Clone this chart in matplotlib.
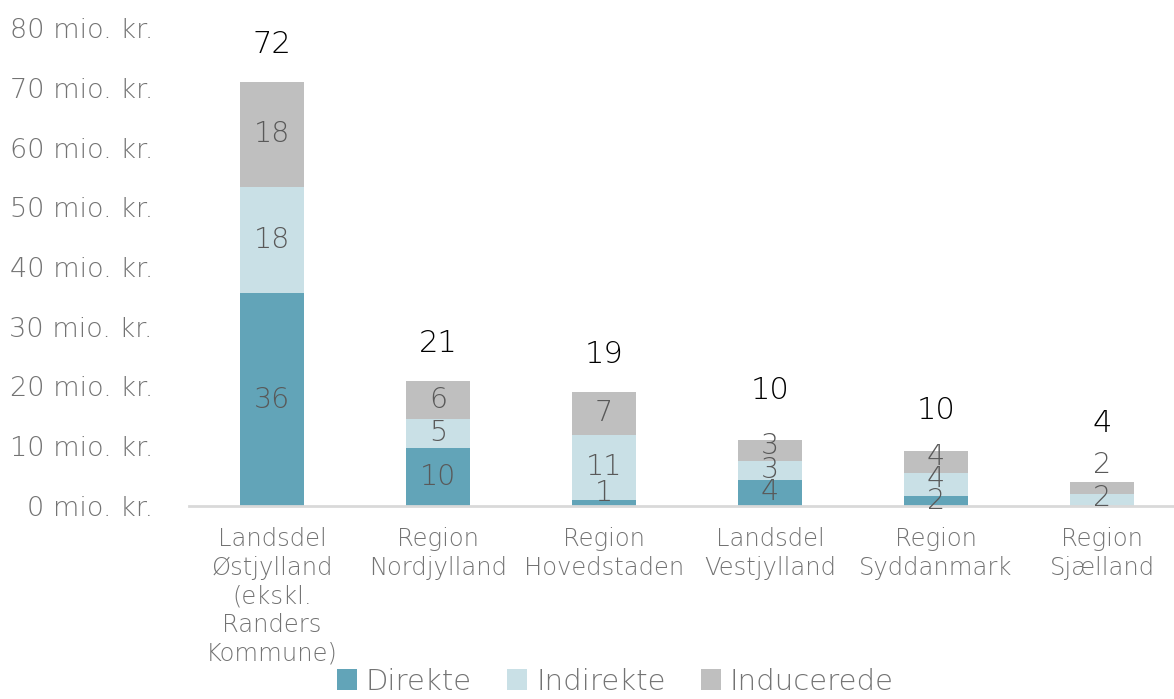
import numpy as np
import matplotlib.pyplot as plt

# data
categories = ["Landsdel\nØstjylland\n(ekskl.\nRanders\nKommune)", "Region\nNordjylland",
              "Region\nHovedstaden", "Landsdel\nVestjylland", "Region\nSyddanmark", "Region\nSjælland"]
direkte = [35.6, 9.7, 1.0, 4.35, 1.7, 0.0]
indirekte = [17.8, 4.9, 10.9, 3.2, 3.8, 2.0]
inducerede = [17.6, 6.3, 7.2, 3.45, 3.7, 2.0]
totals = [72, 21, 19, 10, 10, 4]
yticks = [0, 10, 20, 30, 40, 50, 60, 70, 80]

plt.rcParams['font.family'] = ['DejaVu Sans']
GREY = "#595959"
LIGHTGREY = "#737373"
colours = ["#62a4b8", "#c9e0e6", "#bfbfbf"]
names = ["Direkte", "Indirekte", "Inducerede"]

fig = plt.figure(figsize=(11.74, 6.99), dpi=100)
ax = fig.add_axes([189 / 1174, 1 - 506 / 699, 996 / 1174, 478 / 699])

x = np.arange(len(categories))
bottom = np.zeros(len(categories))
series = [direkte, indirekte, inducerede]
# small manual nudges for labels that were moved in the original
nudge = {(0, 2): 1.6, (1, 4): 0.9, (2, 4): 0.9, (2, 5): 3.8, (1, 5): 0.4, (0, 3): 0.1, (2, 3): 0.8}
for s, (vals, col, name) in enumerate(zip(series, colours, names)):
    vals = np.array(vals)
    ax.bar(x, vals, 0.39, bottom=bottom, color=col, label=name, zorder=2)
    for i, v in enumerate(vals):
        if v <= 0:
            continue
        yy = bottom[i] + v / 2 + nudge.get((s, i), 0)
        ax.text(x[i], yy, f"{round(v)}", ha="center", va="center",
                fontsize=20.5, color=GREY, fontweight="light", zorder=3)
    bottom += vals

total_nudge = [0, 0, 0, 2.0, 0.5, 3.5]
for i, t in enumerate(totals):
    ax.text(x[i], bottom[i] + 6.3 + total_nudge[i], str(t), ha="center", va="center",
            fontsize=22, color="black", fontweight="light")

ax.set_xlim(-0.5, len(categories) - 0.5)
ax.set_ylim(0, 80)
ax.set_yticks(yticks)
ax.set_yticklabels([f"{t} mio. kr." for t in yticks], fontsize=19.5, color=LIGHTGREY, fontweight="light")
ax.set_xticks(x)
ax.set_xticklabels(categories, fontsize=17.5, color=LIGHTGREY, fontweight="light", linespacing=1.25)
ax.tick_params(axis="both", length=0)
ax.tick_params(axis="y", pad=26)
ax.tick_params(axis="x", pad=15)
for sp in ["top", "right", "left"]:
    ax.spines[sp].set_visible(False)
ax.spines["bottom"].set_color("#d9d9d9")
ax.spines["bottom"].set_linewidth(2)
ax.set_facecolor("none")

leg = fig.legend(loc="lower center", ncol=3, frameon=False, bbox_to_anchor=(0.524, -0.033),
                 handlelength=0.7, handleheight=0.7, handletextpad=0.3, columnspacing=1.2,
                 prop={"size": 21, "weight": "light"})
for t in leg.get_texts():
    t.set_color(LIGHTGREY)

fig.savefig("out.png", dpi=100)
